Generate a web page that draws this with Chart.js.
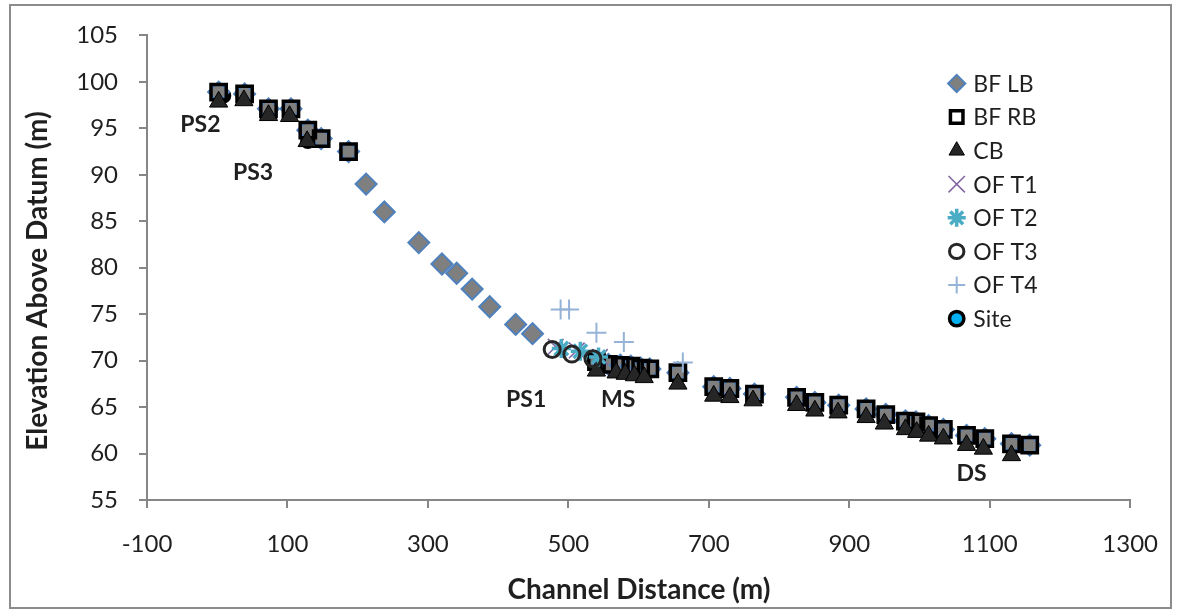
<!DOCTYPE html>
<html>
<head>
<meta charset="utf-8">
<script src="https://cdn.jsdelivr.net/npm/chart.js@4.4.1/dist/chart.umd.min.js"></script>
<style>
html,body{margin:0;padding:0;background:#fff;}
#wrap{position:relative;width:1180px;height:612px;}
</style>
</head>
<body>
<div id="wrap"><canvas id="c" width="1180" height="612"></canvas></div>
<script>
// ---- data ----
const seriesNames = ['BF LB','BF RB','CB','OF T1','OF T2','OF T3','OF T4','Site'];

const bfLbX = [2,39,73,105,129,148,187, 212,238,287,320,341,363,388,425,449, 540,557,574,589,603,616,656, 707,730,765,825,851,885,924,952,980,995,1013,1034,1067,1093,1131,1157];
const bfLbY = [98.9,98.7,97.1,97.1,94.8,93.9,92.5, 89.0,86.0,82.7,80.4,79.4,77.7,75.8,73.9,72.9, 69.9,69.6,69.5,69.4,69.2,69.1,68.7, 67.2,67.0,66.4,66.05,65.5,65.2,64.8,64.2,63.5,63.4,63.0,62.6,61.95,61.6,61.05,60.9];

const bfRbX = [2,39,73,105,129,148,187, 540,557,574,589,603,616,656, 707,730,765,825,851,885,924,952,980,995,1013,1034,1067,1093,1131,1157];
const bfRbY = [98.9,98.7,97.1,97.1,94.8,93.9,92.5, 69.9,69.6,69.5,69.4,69.2,69.1,68.7, 67.2,67.0,66.4,66.05,65.5,65.2,64.8,64.2,63.5,63.4,63.0,62.6,61.95,61.6,61.05,60.9];

const cbX = [2,38,73,103,128, 540,568,581,594,608,656, 707,730,763,825,851,884,924,950,980,996,1013,1034,1067,1091,1131];
const cbY = [97.85,98.0,96.4,96.3,93.6, 68.9,68.7,68.55,68.4,68.2,67.5, 66.2,66.05,65.7,65.2,64.6,64.4,63.9,63.2,62.6,62.3,61.9,61.6,60.9,60.5,59.8];

const ofT1X = [482,512,545];
const ofT1Y = [71.5,71.1,70.4];
const ofT2X = [490,517,543];
const ofT2Y = [71.3,71.0,70.4];
const ofT3X = [477,505,535];
const ofT3Y = [71.2,70.7,70.2];
const ofT4X = [489,501,540,579,663];
const ofT4Y = [75.5,75.5,73.0,72.0,69.8];
const siteX = [9,129,449,557,1093];
const siteY = [98.5,93.6,72.9,69.6,61.6];

const siteLabels = ['PS2','PS3','PS1','MS','DS'];
const siteLabelX = [-24,51,440,571,1074];
const siteLabelY = [95.55,90.35,65.95,65.95,57.9];

const xTickValues = [-100,100,300,500,700,900,1100,1300];
const yTickValues = [55,60,65,70,75,80,85,90,95,100,105];

const xTitle = 'Channel Distance (m)';
const yTitle = 'Elevation Above Datum (m)';

// ---- build ----
function pts(xs, ys){ return xs.map((x,i)=>({x:x, y:ys[i]})); }

const FONT = 'Lato, "Open Sans", "Noto Sans", sans-serif';
const TXT = '#1f1f1f';
const AXIS = '#868686';

const styles = [
  {pointStyle:'rectRot', radius:10.5, backgroundColor:'#7f7f7f', borderColor:'#4f81bd', borderWidth:2, order:7},
  {pointStyle:'rect', radius:10.8, backgroundColor:'rgba(0,0,0,0)', borderColor:'#000000', borderWidth:3.5, order:6},
  {pointStyle:'triangle', radius:10.5, backgroundColor:'#262626', borderColor:'#000000', borderWidth:1, order:5},
  {pointStyle:'crossRot', radius:11, backgroundColor:'rgba(0,0,0,0)', borderColor:'#8064a2', borderWidth:1.5, order:4},
  {pointStyle:'star', radius:9.5, backgroundColor:'rgba(0,0,0,0)', borderColor:'#4bacc6', borderWidth:3.5, order:3},
  {pointStyle:'circle', radius:8, backgroundColor:'rgba(0,0,0,0)', borderColor:'#262626', borderWidth:3, order:2},
  {pointStyle:'cross', radius:10, backgroundColor:'rgba(0,0,0,0)', borderColor:'#95b3d7', borderWidth:2, order:1},
  {pointStyle:'circle', radius:6, backgroundColor:'#00b0f0', borderColor:'#000000', borderWidth:3.5, order:8}
];
const legendScale = [0.82,0.82,0.85,1.05,0.95,0.9,0.85,1.2];
const seriesData = [pts(bfLbX,bfLbY), pts(bfRbX,bfRbY), pts(cbX,cbY), pts(ofT1X,ofT1Y), pts(ofT2X,ofT2Y), pts(ofT3X,ofT3Y), pts(ofT4X,ofT4Y), pts(siteX,siteY)];

const datasets = seriesNames.map((name,i)=>{
  const s = styles[i];
  return {
    label: name, data: seriesData[i], showLine:false, order:s.order,
    pointStyle:s.pointStyle, pointRadius:s.radius, pointHoverRadius:s.radius,
    pointBackgroundColor:s.backgroundColor, pointBorderColor:s.borderColor, pointBorderWidth:s.borderWidth,
    backgroundColor:s.backgroundColor, borderColor:s.borderColor
  };
});

function drawMarker(ctx, s, x, y, scale){
  ctx.save();
  ctx.fillStyle = s.backgroundColor;
  ctx.strokeStyle = s.borderColor;
  ctx.lineWidth = s.borderWidth;
  const opts = {pointStyle:s.pointStyle, radius:s.radius*scale, rotation:0, borderWidth:s.borderWidth};
  if (Chart.helpers && Chart.helpers.drawPoint) {
    Chart.helpers.drawPoint(ctx, opts, x, y);
  }
  ctx.restore();
}

const decor = {
  id:'decor',
  beforeDraw(chart){
    const ctx = chart.ctx;
    ctx.save();
    ctx.fillStyle = '#ffffff';
    ctx.fillRect(0,0,chart.width,chart.height);
    ctx.restore();
  },
  afterDraw(chart){
    const ctx = chart.ctx;
    const xs = chart.scales.x, ys = chart.scales.y;
    ctx.save();
    // outer chart border
    ctx.strokeStyle = '#8c8c8c';
    ctx.lineWidth = 2;
    ctx.strokeRect(10, 5, 1161, 603);
    // site labels
    ctx.fillStyle = TXT;
    ctx.font = 'bold 23px ' + FONT;
    ctx.textAlign = 'center';
    ctx.textBaseline = 'alphabetic';
    siteLabels.forEach((t,i)=>{
      const px = xs.getPixelForValue(siteLabelX[i]);
      const py = ys.getPixelForValue(siteLabelY[i]);
      ctx.fillText(t, px, py + 8.3);
    });
    // legend
    const lx = 956.7, tx = 973.3, ly0 = 83.4, dy = 33.6;
    ctx.font = '23px ' + FONT;
    ctx.textAlign = 'left';
    seriesNames.forEach((name,i)=>{
      const yy = ly0 + i*dy;
      drawMarker(ctx, styles[i], lx, yy, legendScale[i]);
      ctx.fillStyle = TXT;
      ctx.fillText(name, tx, yy + 8.3);
    });
    // axis titles
    ctx.font = 'bold 28px ' + FONT;
    ctx.textAlign = 'center';
    ctx.textBaseline = 'middle';
    ctx.fillStyle = TXT;
    ctx.fillText(xTitle, 639, 590);
    ctx.translate(38, 281);
    ctx.rotate(-Math.PI/2);
    ctx.fillText(yTitle, 0, 0);
    ctx.restore();
  }
};

new Chart(document.getElementById('c'), {
  type:'scatter',
  data:{datasets:datasets},
  plugins:[decor],
  options:{
    responsive:false, animation:false, devicePixelRatio:1,
    layout:{padding:{top:33, right:41, left:0, bottom:0}},
    plugins:{legend:{display:false}, tooltip:{enabled:false}},
    events:[],
    scales:{
      x:{
        type:'linear', min:-100, max:1300,
        afterBuildTicks(scale){ scale.ticks = xTickValues.map(v=>({value:v})); },
        afterFit(scale){ scale.height = 112; },
        grid:{drawOnChartArea:false, drawTicks:true, tickLength:8, color:AXIS, lineWidth:2},
        border:{display:true, color:AXIS, width:2},
        ticks:{font:{family:FONT, size:24}, color:TXT, padding:22, maxRotation:0, autoSkip:false,
               callback:(v)=>String(v)}
      },
      y:{
        type:'linear', min:55, max:105,
        afterBuildTicks(scale){ scale.ticks = yTickValues.map(v=>({value:v})); },
        afterFit(scale){ scale.width = 147; },
        grid:{drawOnChartArea:false, drawTicks:true, tickLength:8, color:AXIS, lineWidth:2},
        border:{display:true, color:AXIS, width:2},
        ticks:{font:{family:FONT, size:24}, color:TXT, padding:21, autoSkip:false,
               callback:(v)=>String(v)}
      }
    }
  }
});
</script>
</body>
</html>
